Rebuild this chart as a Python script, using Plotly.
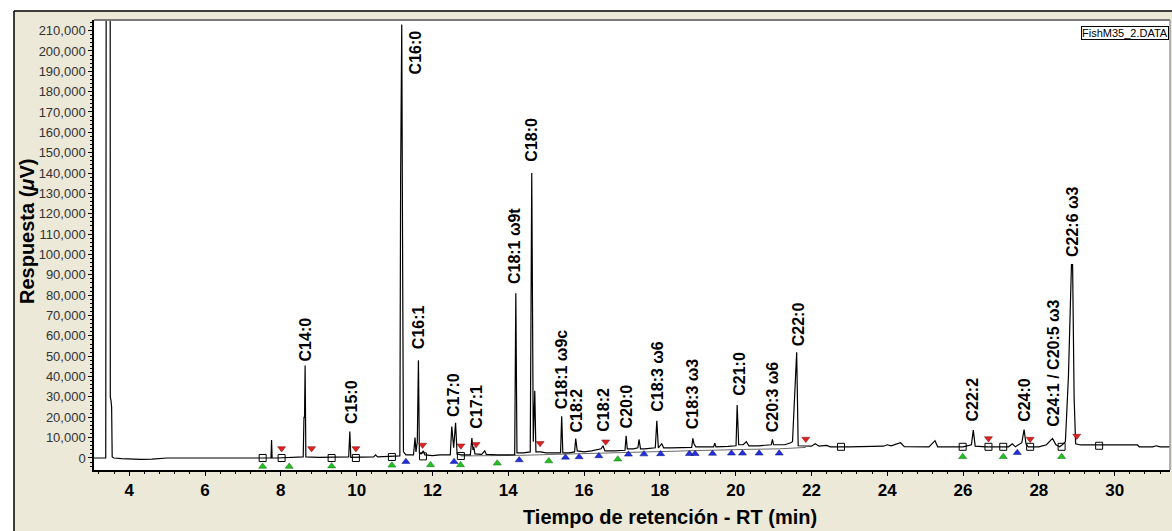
import plotly.graph_objects as go

# ---------------- data ----------------
# chromatogram trace: retention time (min) and detector response (uV)
trace_rt = [3.07, 3.38, 3.395, 3.40, 3.49, 3.50, 3.52, 3.535, 3.55, 3.6, 3.8, 4.0, 4.3, 4.6, 4.8, 5.0, 6.0, 7.0,
            7.5, 7.74, 7.755, 7.77, 7.9, 8.3, 8.59, 8.61, 8.625, 8.64, 8.66, 9.0, 9.5, 9.79, 9.82, 9.845,
            10.45, 10.5, 10.55, 10.9, 11.14, 11.16, 11.19, 11.215, 11.235, 11.3, 11.5, 11.54, 11.565,
            11.6, 11.63, 11.655, 11.7, 11.76, 11.8, 12.0, 12.2, 12.47, 12.51, 12.56, 12.61, 12.65, 12.75,
            13.0, 13.04, 13.07, 13.09, 13.12, 13.3, 13.38, 13.42, 13.7, 14.0, 14.17, 14.20, 14.23, 14.4,
            14.58, 14.62, 14.66, 14.70, 14.73, 14.85, 15.0, 15.38, 15.41, 15.44, 15.6, 15.75, 15.78, 15.82,
            16.0, 16.2, 16.3, 16.45, 16.5, 16.55, 16.8, 17.08, 17.11, 17.14, 17.3, 17.42, 17.45, 17.49,
            17.6, 17.88, 17.92, 17.96, 18.05, 18.1, 18.3, 18.5, 18.84, 18.87, 18.9, 18.95, 19.2, 19.42,
            19.45, 19.48, 19.8, 20.01, 20.04, 20.08, 20.2, 20.28, 20.35, 20.6, 20.94, 20.97, 21.0, 21.3,
            21.45, 21.5, 21.58, 21.61, 21.65, 21.8, 22.0, 22.1, 22.2, 22.4, 22.5, 23.0, 23.5, 23.9, 24.0,
            24.1, 24.35, 24.45, 25.1, 25.26, 25.33, 26.0, 26.22, 26.27, 26.32, 26.6, 27.2, 27.3, 27.38,
            27.55, 27.61, 27.66, 27.72, 28.0, 28.2, 28.36, 28.45, 28.55, 28.62, 28.70, 28.78, 28.86,
            28.89, 28.93, 28.97, 29.1, 30.6, 30.65, 31.0, 31.1, 31.2, 31.46]
trace_uv = [0, 0, 300000, 700000, 700000, 30000, 28000, 25000, 500, 0, -300, -600, -700, -600, -200, 0, 0, 0,
            0, 0, 8800, 0, 0, 300, 500, 20000, 20000, 45500, 500, 300, 300, 500, 13000, 300,
            500, 1500, 500, 800, 1000, 137000, 213000, 88000, 3000, 1500, 1500, 10000, 3000,
            8000, 48000, 2500, 2000, 3500, 1500, 1200, 1500, 1500, 15500, 5000, 17300, 2000, 1500,
            1500, 9800, 4000, 5500, 2000, 1800, 3500, 1800, 1500, 1500, 1600, 81000, 2500, 2500,
            3000, 140000, 8000, 33000, 3000, 3000, 2500, 2500, 20500, 2500, 2500, 3000, 9600, 3500,
            3000, 3500, 4000, 4500, 6000, 3500, 3500, 3800, 10900, 4500, 4500, 5000, 9100, 4500,
            4500, 5000, 18300, 5000, 7000, 5000, 5000, 5000, 5200, 9600, 7000, 5500, 5500, 5500,
            7300, 5500, 5700, 6000, 26000, 6500, 6500, 8000, 6000, 6000, 6500, 9100, 6500, 6500,
            7500, 8000, 40000, 52000, 6000, 6000, 5800, 7000, 5800, 6200, 5500, 5500, 5500, 5800, 6500,
            6000, 7500, 5600, 5500, 8500, 5500, 5500, 6500, 13700, 5800, 5500, 5500, 7000, 5500,
            7500, 14000, 7000, 5500, 5500, 6500, 9600, 6500, 5500, 6500, 8000, 40000, 95000,
            95000, 30000, 7000, 6400, 6400, 5500, 5500, 6000, 5500, 5500]

# integration baseline drawn under the later peaks
base_rt = [12.75, 14.3, 15.5, 17.2, 18.9, 20.2, 21.15, 21.85]
base_uv = [1000, 1300, 1900, 2900, 3600, 4200, 4500, 5200]

# integration event markers
square_rt = [7.52, 8.02, 9.34, 9.98, 10.93, 11.75, 12.75, 22.78, 25.99, 26.67, 27.06, 27.77, 28.60, 29.59]
square_uv = [0, 0, 0, 0, 500, 800, 1000, 5500, 5500, 5500, 5500, 5500, 5500, 6000]
green_rt = [7.52, 8.22, 9.34, 10.93, 11.95, 12.74, 13.71, 15.07, 16.89, 25.99, 27.06, 28.60]
green_uv = [-4200, -4200, -4000, -3600, -3400, -3400, -2600, -1500, -600, 600, 600, 600]
blue_rt = [11.30, 12.57, 14.29, 15.51, 15.87, 16.39, 17.17, 17.58, 18.02, 18.78, 18.93, 19.39,
           19.89, 20.18, 20.62, 21.15, 27.43]
blue_uv = [-1800, -1800, -1000, 300, 500, 1000, 1800, 1900, 2000, 2100, 2100, 2200,
           2300, 2300, 2300, 2300, 2600]
red_rt = [8.02, 8.81, 9.98, 11.74, 12.75, 13.15, 14.84, 16.57, 21.85, 26.67, 27.77, 29.0]
red_uv = [4700, 4700, 4700, 6400, 6000, 6700, 7200, 8000, 9300, 9600, 9300, 10800]

# peak labels: name, retention time, response at the foot of the label
peak_names = ["C14:0", "C15:0", "C16:0", "C16:1", "C17:0", "C17:1", "C18:1 ω9t", "C18:0",
              "C18:1 ω9c", "C18:2", "C18:2", "C20:0", "C18:3 ω6", "C18:3 ω3", "C21:0",
              "C20:3 ω6", "C22:0", "C22:2", "C24:0", "C24:1 / C20:5 ω3", "C22:6 ω3"]
peak_rt = [8.64, 9.85, 11.54, 11.62, 12.57, 13.17, 14.18, 14.62, 15.41, 15.80, 16.52, 17.12,
           17.93, 18.87, 20.11, 20.98, 21.65, 26.25, 27.63, 28.38, 28.89]
peak_uv = [47000, 16200, 188000, 53000, 19700, 13800, 85000, 145000, 23600, 12300, 12300, 13800,
           22100, 13800, 30000, 12300, 54500, 17200, 17200, 14700, 98300]

y_ticks = list(range(0, 210001, 10000))
x_ticks = list(range(4, 31, 2))

# ---------------- figure ----------------
W, H = 1172, 531
L, R, T, B = 94, 2, 20, 61
PW, PH = W - L - R, H - T - B


def px(xp):
    return (xp - L) / PW


def py(yp):
    return (H - B - yp) / PH


fig = go.Figure()
fig.add_trace(go.Scatter(x=base_rt, y=base_uv, mode="lines",
                         line=dict(color="#6a6a6a", width=1), hoverinfo="skip"))
fig.add_trace(go.Scatter(x=trace_rt, y=trace_uv, mode="lines",
                         line=dict(color="black", width=1.2)))
fig.add_trace(go.Scatter(x=square_rt, y=square_uv, mode="markers",
                         marker=dict(symbol="square-open", size=7, color="black", line=dict(width=1))))
fig.add_trace(go.Scatter(x=green_rt, y=green_uv, mode="markers",
                         marker=dict(symbol="triangle-up", size=7, color="#22c022",
                                     line=dict(width=0.5, color="#0a6a0a"))))
fig.add_trace(go.Scatter(x=blue_rt, y=blue_uv, mode="markers",
                         marker=dict(symbol="triangle-up", size=7, color="#2030e0",
                                     line=dict(width=0.5, color="#101070"))))
fig.add_trace(go.Scatter(x=red_rt, y=red_uv, mode="markers",
                         marker=dict(symbol="triangle-down", size=7, color="#e02020",
                                     line=dict(width=0.5, color="#701010"))))

annotations = []
for name, xr, yv in zip(peak_names, peak_rt, peak_uv):
    annotations.append(dict(x=xr, y=yv, xref="x", yref="y", text="<b>" + name + "</b>",
                            textangle=-90, showarrow=False, xanchor="center", yanchor="bottom",
                            borderpad=0, font=dict(family="Liberation Sans, Arial", size=16, color="black")))

annotations.append(dict(x=px(27), y=py(232), xref="paper", yref="paper",
                        text="<b>Respuesta (<i>μ</i>V)</b>", textangle=-90, showarrow=False,
                        xanchor="center", yanchor="middle",
                        font=dict(family="Liberation Sans, Arial", size=20, color="black")))
annotations.append(dict(x=px(670), y=py(517), xref="paper", yref="paper",
                        text="<b>Tiempo de retención - RT (min)</b>", showarrow=False,
                        xanchor="center", yanchor="middle",
                        font=dict(family="Liberation Sans, Arial", size=20, color="black")))
annotations.append(dict(x=px(1169), y=py(26), xref="paper", yref="paper",
                        text="FishM35_2.DATA", showarrow=False, xanchor="right", yanchor="top",
                        bgcolor="white", bordercolor="black", borderwidth=1, borderpad=0,
                        font=dict(family="Liberation Sans, Arial", size=11, color="black")))

shapes = [
    # white strips outside the beige panel
    dict(type="rect", xref="paper", yref="paper", x0=px(0), x1=px(W), y0=py(11), y1=py(0),
         fillcolor="white", line=dict(width=0), layer="above"),
    dict(type="rect", xref="paper", yref="paper", x0=px(0), x1=px(14), y0=py(H), y1=py(0),
         fillcolor="white", line=dict(width=0), layer="above"),
    # panel border
    dict(type="line", xref="paper", yref="paper", x0=px(14), x1=px(W), y0=py(11), y1=py(11),
         line=dict(color="black", width=1.5)),
    dict(type="line", xref="paper", yref="paper", x0=px(14), x1=px(14), y0=py(11), y1=py(H),
         line=dict(color="black", width=1.5)),
    # plot frame top / right
    dict(type="line", xref="paper", yref="paper", x0=0, x1=1, y0=1, y1=1,
         line=dict(color="#7a7a7a", width=2)),
    dict(type="line", xref="paper", yref="paper", x0=1, x1=1, y0=0, y1=1,
         line=dict(color="#9a9a9a", width=1.5)),
]

fig.update_layout(
    width=W, height=H,
    margin=dict(l=L, r=R, t=T, b=B, pad=0),
    paper_bgcolor="#ECE9D8", plot_bgcolor="white",
    showlegend=False,
    annotations=annotations,
    shapes=shapes,
    xaxis=dict(range=[3.07, 31.46], tickvals=x_ticks, ticktext=["<b>%d</b>" % v for v in x_ticks],
               ticks="outside", ticklen=4, tickcolor="black", showgrid=False, zeroline=False,
               showline=True, linecolor="black", linewidth=1.5,
               tickfont=dict(family="Liberation Sans, Arial", size=17, color="black"),
               minor=dict(dtick=0.4, tick0=0, ticks="outside", ticklen=2, tickcolor="black")),
    yaxis=dict(range=[-5900, 215200], tickvals=y_ticks,
               ticktext=["{:,}".format(v) for v in y_ticks],
               ticks="outside", ticklen=4, tickcolor="black", showgrid=False, zeroline=False,
               showline=True, linecolor="black", linewidth=1.5,
               tickfont=dict(family="Liberation Sans, Arial", size=13, color="#333333"),
               minor=dict(dtick=2000, tick0=0, ticks="outside", ticklen=2, tickcolor="black")),
)

fig.write_html("out.html", config={"displayModeBar": False},
               post_script="document.body.style.margin='0px';document.body.style.overflow='hidden';")
